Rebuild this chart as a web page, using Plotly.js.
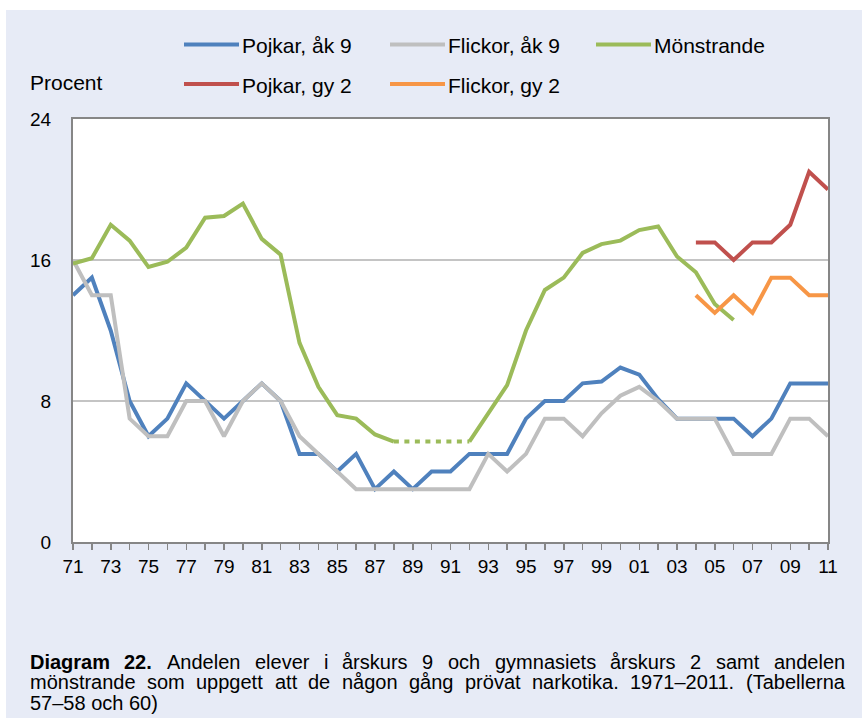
<!DOCTYPE html>
<html>
<head>
<meta charset="utf-8">
<script src="https://cdn.plot.ly/plotly-3.0.1.min.js"></script>
<style>
  html, body { margin: 0; padding: 0; background: #ffffff; width: 862px; height: 718px; overflow: hidden; }
  #chart { position: absolute; left: 6px; top: 10px; width: 856px; height: 708px; }
</style>
</head>
<body>
<div id="chart"></div>
<script>
// ---- data (years 1971–2011) ----
const years = [1971,1972,1973,1974,1975,1976,1977,1978,1979,1980,
               1981,1982,1983,1984,1985,1986,1987,1988,1989,1990,
               1991,1992,1993,1994,1995,1996,1997,1998,1999,2000,
               2001,2002,2003,2004,2005,2006,2007,2008,2009,2010,2011];

const pojkarAk9 = [14,15,12,8,6,7,9,8,7,8,
                   9,8,5,5,4,5,3,4,3,4,
                   4,5,5,5,7,8,8,9,9.1,9.9,
                   9.5,8.1,7,7,7,7,6,7,9,9,9];

const flickorAk9 = [16,14,14,7,6,6,8,8,6,8,
                    9,8,6,5,4,3,3,3,3,3,
                    3,3,5,4,5,7,7,6,7.3,8.3,
                    8.8,8,7,7,7,5,5,5,7,7,6];

const monstrande = [15.8,16.1,18.0,17.1,15.6,15.9,16.7,18.4,18.5,19.2,
                    17.2,16.3,11.3,8.8,7.2,7.0,6.1,5.7,null,null,
                    null,5.7,7.3,8.9,12.0,14.3,15.0,16.4,16.9,17.1,
                    17.7,17.9,16.2,15.3,13.5,12.6,null,null,null,null,null];

const pojkarGy2 = [null,null,null,null,null,null,null,null,null,null,
                   null,null,null,null,null,null,null,null,null,null,
                   null,null,null,null,null,null,null,null,null,null,
                   null,null,null,17,17,16,17,17,18,21,20];

const flickorGy2 = [null,null,null,null,null,null,null,null,null,null,
                    null,null,null,null,null,null,null,null,null,null,
                    null,null,null,null,null,null,null,null,null,null,
                    null,null,null,14,13,14,13,15,15,14,14];

const tickYears  = [1971,1973,1975,1977,1979,1981,1983,1985,1987,1989,1991,
                    1993,1995,1997,1999,2001,2003,2005,2007,2009,2011];
const tickLabels = ['71','73','75','77','79','81','83','85','87','89','91',
                    '93','95','97','99','01','03','05','07','09','11'];
const yTicks = [0, 8, 16, 24];

const seriesNames = ['Pojkar, åk 9','Flickor, åk 9','Mönstrande','Pojkar, gy 2','Flickor, gy 2'];
const seriesColors = ['#4F81BD','#BFBFBF','#9BBB59','#C0504D','#F79646'];
const seriesData = [pojkarAk9, flickorAk9, monstrande, pojkarGy2, flickorGy2];

// dotted gap segment for Mönstrande (1988 -> 1992, years without survey)
const monGap = years.map((y, i) => (y === 1988 || y === 1992) ? monstrande[i] : null);

// ---- layout geometry ----
const W = 856, H = 708, OX = 6, OY = 10;
const M = { l: 67, r: 34, t: 109, b: 176 };
const PW = W - M.l - M.r, PH = H - M.t - M.b;
const px = x => (x - OX - M.l) / PW;
const py = y => 1 - (y - OY - M.t) / PH;

const FONT = '"Liberation Sans", Arial, sans-serif';
const CAP_SIZE = 20;

const traces = seriesData.map((d, i) => ({
  x: years, y: d, type: 'scatter', mode: 'lines', name: seriesNames[i],
  line: { color: seriesColors[i], width: 4 }, showlegend: false, hoverinfo: 'skip'
}));
traces.splice(3, 0, {
  x: years, y: monGap, type: 'scatter', mode: 'lines', connectgaps: true,
  line: { color: seriesColors[2], width: 4, dash: '5px,5.5px' }, showlegend: false, hoverinfo: 'skip'
});

const annotations = [];
const shapes = [];

// Y-axis unit label
annotations.push({ text: 'Procent', xref: 'paper', yref: 'paper', x: px(30), y: py(82),
  xanchor: 'left', yanchor: 'middle', showarrow: false, borderpad: 0, borderwidth: 0,
  font: { family: FONT, size: 21, color: '#000' } });

// Manual legend (two rows)
const legendPos = [[184, 44.5], [390, 44.5], [596, 44.5], [184, 84], [390, 84]];
seriesNames.forEach((n, i) => {
  const [lx, ly] = legendPos[i];
  shapes.push({ type: 'line', xref: 'paper', yref: 'paper', x0: px(lx), x1: px(lx + 55), y0: py(ly), y1: py(ly),
    line: { color: seriesColors[i], width: 4 } });
  annotations.push({ text: n, xref: 'paper', yref: 'paper', x: px(lx + 58), y: py(ly + 1),
    xanchor: 'left', yanchor: 'middle', showarrow: false, borderpad: 0, borderwidth: 0,
    font: { family: FONT, size: 21, color: '#000' } });
});

// Caption (justified lines)
const canvas = document.createElement('canvas');
const ctx = canvas.getContext('2d');
function measure(t, bold) {
  ctx.font = (bold ? 'bold ' : '') + CAP_SIZE + 'px "Liberation Sans", Arial, sans-serif';
  return ctx.measureText(t).width;
}
function addWord(t, bold, x, y) {
  annotations.push({ text: bold ? '<b>' + t + '</b>' : t, xref: 'paper', yref: 'paper', x: px(x), y: py(y),
    xanchor: 'left', yanchor: 'middle', showarrow: false, borderpad: 0, borderwidth: 0,
    font: { family: FONT, size: CAP_SIZE, color: '#000' } });
}
function justify(words, boldCount, y, left, right) {
  const w = words.map((t, i) => measure(t, i < boldCount));
  const total = w.reduce((a, b) => a + b, 0);
  const gap = (right - left - total) / (words.length - 1);
  let x = left;
  words.forEach((t, i) => { addWord(t, i < boldCount, x, y); x += w[i] + gap; });
}
const capLeft = 30, capRight = 845;
justify(['Diagram','22.','Andelen','elever','i','årskurs','9','och','gymnasiets','årskurs','2','samt','andelen'], 2, 661.5, capLeft, capRight);
justify(['mönstrande','som','uppgett','att','de','någon','gång','prövat','narkotika.','1971–2011.','(Tabellerna'], 0, 682.3, capLeft, capRight);
addWord('57–58 och 60)', false, capLeft, 703);

const layout = {
  width: W, height: H,
  margin: M,
  paper_bgcolor: '#E7EBF6',
  plot_bgcolor: '#FFFFFF',
  font: { family: FONT, color: '#000' },
  showlegend: false,
  xaxis: {
    type: 'linear', range: [1971, 2011], fixedrange: true,
    tickmode: 'array', tickvals: tickYears, ticktext: tickLabels,
    ticks: 'outside', ticklen: 6, tickwidth: 1.5, tickcolor: '#868686',
    minor: { dtick: 1, tick0: 1971, ticks: 'outside', ticklen: 6, tickwidth: 1.5, tickcolor: '#868686', showgrid: false },
    showgrid: false, zeroline: false,
    showline: true, mirror: true, linecolor: '#868686', linewidth: 2,
    tickfont: { family: FONT, size: 19, color: '#000' }
  },
  yaxis: {
    range: [0, 24], fixedrange: true,
    tickmode: 'array', tickvals: yTicks,
    ticks: 'outside', ticklen: 16, tickcolor: 'rgba(0,0,0,0)',
    showgrid: true, gridcolor: '#C4C4C4', gridwidth: 1.5, zeroline: false,
    showline: true, mirror: true, linecolor: '#868686', linewidth: 2,
    tickfont: { family: FONT, size: 19, color: '#000' }
  },
  annotations: annotations,
  shapes: shapes
};

Plotly.newPlot('chart', traces, layout, { staticPlot: true, displayModeBar: false });
</script>
</body>
</html>
